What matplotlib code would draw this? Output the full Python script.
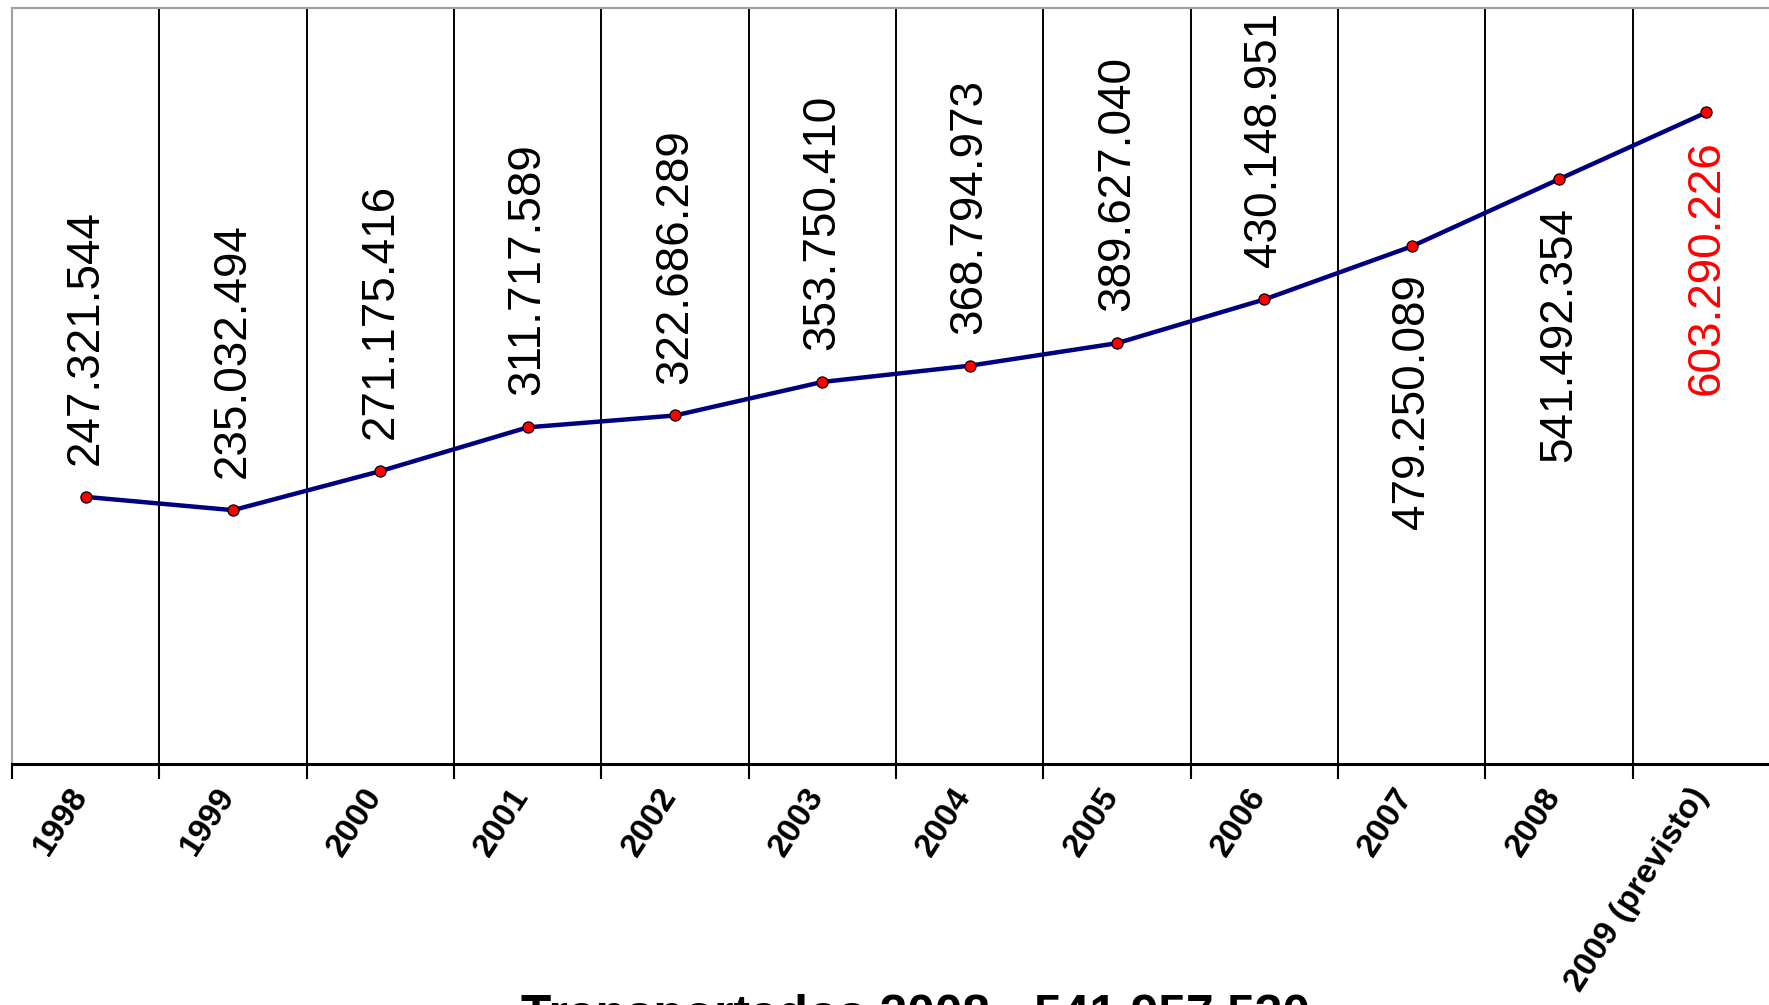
import matplotlib
matplotlib.use('Agg')
import matplotlib.pyplot as plt
import numpy as np

years = ['1998', '1999', '2000', '2001', '2002', '2003', '2004', '2005',
         '2006', '2007', '2008', '2009 (previsto)']
passengers = [247321544, 235032494, 271175416, 311717589, 322686289, 353750410,
              368794973, 389627040, 430148951, 479250089, 541492354, 603290226]
label_below = [False, False, False, False, False, False, False, False,
               False, True, True, True]
title = 'Transportados 2008 - 541.957.530'

plt.rcParams['font.family'] = ['Liberation Sans', 'DejaVu Sans']


def fmt(v):
    return f'{v:,}'.replace(',', '.')


fig = plt.figure(figsize=(17.69, 10.05), dpi=100)
ax = fig.add_axes([12 / 1769, 1 - 764 / 1005, 1768 / 1769, 756 / 1005])

x = np.arange(len(years))
ax.plot(x, passengers, color='#000080', lw=3.2, marker='o', ms=8,
        mfc='red', mec='black', mew=0.9, zorder=4, clip_on=False)

ax.set_xlim(-0.5, len(years) - 0.5)
ax.set_ylim(0, 700_000_000)

# boundaries between categories: gridlines + outward ticks
ax.set_xticks(np.arange(-0.5, len(years), 1.0))
ax.set_xticklabels([])
ax.tick_params(axis='x', which='major', direction='out', length=11, width=1.5, color='black')
ax.grid(axis='x', color='black', lw=1.4)
ax.set_yticks([])

for s in ['left', 'top', 'right']:
    ax.spines[s].set_color('#a0a0a0')
    ax.spines[s].set_linewidth(1.5)
ax.spines['bottom'].set_linewidth(2.2)

# category labels
for i, yr in enumerate(years):
    ax.annotate(yr, xy=(i, 0), xycoords=('data', 'axes fraction'),
                xytext=(-13, -13), textcoords='offset points',
                rotation=57, rotation_mode='anchor', ha='right', va='top',
                fontsize=24, fontweight='bold', annotation_clip=False)

# value labels
for i, v in enumerate(passengers):
    col = 'red' if i == len(years) - 1 else 'black'
    if label_below[i]:
        ax.annotate(fmt(v), xy=(i, v), xytext=(0, -20), textcoords='offset points',
                    rotation=90, ha='center', va='top', fontsize=33, color=col)
    else:
        ax.annotate(fmt(v), xy=(i, v), xytext=(0, 23), textcoords='offset points',
                    rotation=90, ha='center', va='bottom', fontsize=33, color=col)

fig.text(915 / 1769, -25 / 1005, title, ha='center', va='baseline',
         fontsize=35.7, fontweight='bold')

fig.savefig('out.png', dpi=100)
